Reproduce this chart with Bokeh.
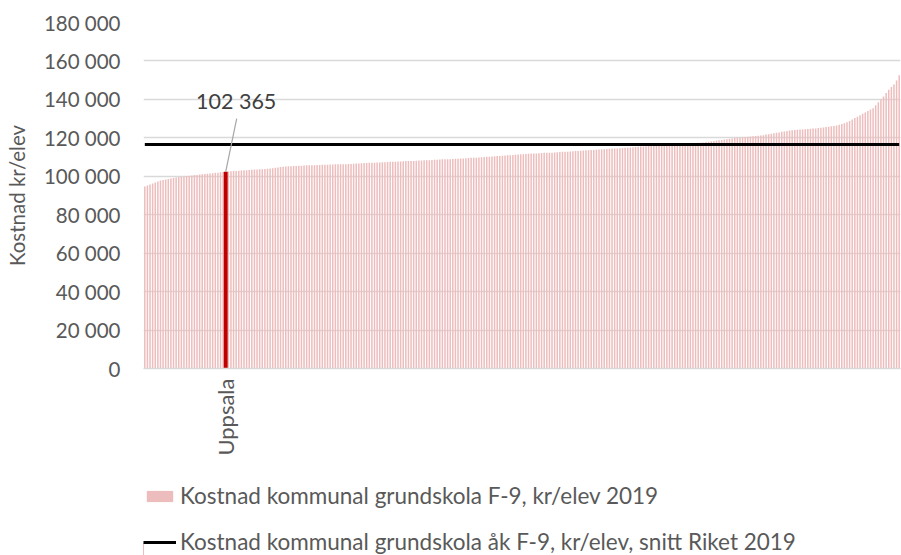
import math
from bokeh.plotting import figure
from bokeh.layouts import column
from bokeh.models import (ColumnDataSource, FixedTicker, Legend, LegendItem, Label)
from bokeh.embed import file_html
from bokeh.resources import INLINE

# ---- data (kr/elev, sorted ascending, one bar per kommun) ----
values = [
    94700, 95200, 95700, 96300, 96800, 97300, 97800, 98100, 98300, 98600,
    98900, 99100, 99400, 99600, 99800, 99900, 100100, 100300, 100400, 100600,
    100700, 100900, 101000, 101200, 101300, 101500, 101600, 101800, 101900, 102100,
    102200, 102365, 102500, 102600, 102700, 102800, 102900, 103000, 103100, 103200,
    103300, 103400, 103500, 103500, 103600, 103700, 103800, 103900, 104000, 104200,
    104400, 104600, 104800, 105000, 105100, 105200, 105200, 105300, 105400, 105500,
    105500, 105600, 105700, 105700, 105800, 105800, 105900, 105900, 106000, 106000,
    106000, 106100, 106100, 106200, 106200, 106200, 106300, 106300, 106400, 106400,
    106500, 106600, 106700, 106800, 106900, 106900, 107000, 107000, 107100, 107200,
    107200, 107300, 107300, 107400, 107500, 107500, 107600, 107700, 107700, 107800,
    107900, 107900, 108000, 108000, 108100, 108200, 108200, 108300, 108400, 108400,
    108500, 108600, 108600, 108700, 108800, 108800, 108900, 108900, 109000, 109100,
    109100, 109200, 109300, 109400, 109500, 109600, 109700, 109700, 109800, 109900,
    110000, 110100, 110200, 110300, 110400, 110500, 110600, 110700, 110800, 110900,
    111000, 111100, 111200, 111300, 111400, 111500, 111600, 111700, 111800, 111900,
    111900, 112000, 112100, 112200, 112200, 112300, 112300, 112400, 112500, 112600,
    112700, 112800, 112800, 112900, 113000, 113100, 113200, 113300, 113400, 113500,
    113600, 113700, 113700, 113800, 113900, 114000, 114100, 114200, 114300, 114400,
    114400, 114500, 114600, 114700, 114800, 114900, 115000, 115100, 115200, 115400,
    115500, 115500, 115600, 115700, 115700, 115800, 115800, 115900, 116000, 116100,
    116200, 116300, 116400, 116500, 116600, 116700, 116800, 116900, 117000, 117100,
    117200, 117300, 117400, 117500, 117600, 117800, 118000, 118200, 118400, 118600,
    118700, 118900, 119100, 119300, 119500, 119700, 119900, 120000, 120100, 120300,
    120400, 120500, 120700, 120800, 120900, 121100, 121200, 121400, 121700, 121900,
    122100, 122400, 122600, 122800, 123100, 123300, 123500, 123800, 124000, 124100,
    124200, 124300, 124400, 124500, 124600, 124700, 124800, 124900, 125100, 125200,
    125400, 125600, 125800, 126000, 126200, 126400, 126800, 127200, 127600, 128100,
    128800, 129500, 130300, 131000, 131800, 132500, 133200, 134000, 134700, 135400,
    137000, 138500, 140000, 141500, 143300, 145000, 146400, 147700, 149800, 152500,
]
snitt_riket = 116500
highlight_name = "Uppsala"
highlight_index = 31
highlight_label = "102 365"
y_ticks = [0, 20000, 40000, 60000, 80000, 100000, 120000, 140000, 160000, 180000]
y_tick_labels = ["0", "20 000", "40 000", "60 000", "80 000", "100 000",
                 "120 000", "140 000", "160 000", "180 000"]
y_axis_title = "Kostnad kr/elev"
legend_bar = "Kostnad kommunal grundskola F-9, kr/elev 2019"
legend_line = "Kostnad kommunal grundskola åk F-9, kr/elev, snitt Riket 2019"

FONT = "Lato"
GREY = "#595959"
FS = "20.5px"
BAR_COLOR = "#EDBDBD"
HL_COLOR = "#C00000"

n = len(values)
idx = list(range(n))
src = ColumnDataSource(dict(x=idx, top=values, avg=[snitt_riket] * n))

p = figure(width=901, height=470, output_backend="svg", toolbar_location=None,
           x_range=(-0.5, n - 0.5), y_range=(y_ticks[0], y_ticks[-1]),
           min_border_left=143, min_border_right=1, min_border_top=22,
           min_border_bottom=102)
p.outline_line_color = None
p.background_fill_color = "white"

bars = p.vbar(x="x", top="top", width=0.58, source=src,
              fill_color=BAR_COLOR, line_color=None)
hl = p.vbar(x=[highlight_index], top=[values[highlight_index]], width=1.5,
            fill_color=HL_COLOR, line_color=None)
avg = p.line(x="x", y="avg", source=src, line_color="black", line_width=3)

# leader + label
p.segment(x0=[35.2], y0=[130000], x1=[highlight_index], y1=[values[highlight_index]],
          line_color="#A6A6A6", line_width=1.2)
p.add_layout(Label(x=35, y=139300, text=highlight_label, text_align="center",
                   text_baseline="middle", text_font=FONT, text_font_size="21.5px",
                   text_color="#404040"))

# grid
p.xgrid.grid_line_color = None
p.ygrid.grid_line_color = "#D9D9D9"
p.ygrid.grid_line_width = 1.3
p.ygrid.ticker = FixedTicker(ticks=y_ticks)

# y axis
p.yaxis.ticker = FixedTicker(ticks=y_ticks)
p.yaxis.major_label_overrides = {t: l for t, l in zip(y_ticks, y_tick_labels)}
p.yaxis.axis_line_color = None
p.yaxis.major_tick_line_color = None
p.yaxis.minor_tick_line_color = None
p.yaxis.major_tick_out = 0
p.yaxis.major_label_standoff = 23
p.yaxis.major_label_text_font = FONT
p.yaxis.major_label_text_font_size = FS
p.yaxis.major_label_text_color = GREY
p.yaxis.axis_label = y_axis_title
p.yaxis.axis_label_text_font = FONT
p.yaxis.axis_label_text_font_size = FS
p.yaxis.axis_label_text_font_style = "normal"
p.yaxis.axis_label_text_color = GREY
p.yaxis.axis_label_standoff = 12

# x axis
p.xaxis.ticker = FixedTicker(ticks=[highlight_index])
p.xaxis.major_label_overrides = {highlight_index: highlight_name}
p.xaxis.major_label_orientation = math.pi / 2
p.xaxis.axis_line_color = "#D9D9D9"
p.xaxis.axis_line_width = 1.3
p.xaxis.major_tick_line_color = None
p.xaxis.minor_tick_line_color = None
p.xaxis.major_tick_out = 0
p.xaxis.major_label_standoff = 10
p.xaxis.major_label_text_font = FONT
p.xaxis.major_label_text_font_size = "22px"
p.xaxis.major_label_text_color = GREY

# ---- legend strip below the chart (same data, drawn outside its view) ----
p2 = figure(width=901, height=85, output_backend="svg", toolbar_location=None,
            x_range=(n + 2, n + 3), y_range=(0, 1000000), x_axis_location=None,
            y_axis_location=None, min_border=0)
p2.outline_line_color = None
p2.grid.visible = False
lg_bar = p2.vbar(x="x", top="top", width=0.58, source=src,
                 fill_color=BAR_COLOR, line_color=None)
lg_line = p2.line(x="x", y="avg", source=src, line_color="black", line_width=3)
legend = Legend(items=[LegendItem(label=legend_bar, renderers=[lg_bar]),
                       LegendItem(label=legend_line, renderers=[lg_line])],
                location=(0, 0), orientation="vertical",
                border_line_color=None, background_fill_alpha=0,
                padding=0, margin=0, spacing=19, glyph_width=33, glyph_height=14,
                label_height=20, label_standoff=4,
                label_text_font=FONT, label_text_font_size="22.5px",
                label_text_color=GREY)
p2.add_layout(legend, "center")

layout = column(p, p2, spacing=0)
open("out.html", "w").write(file_html(layout, INLINE))
